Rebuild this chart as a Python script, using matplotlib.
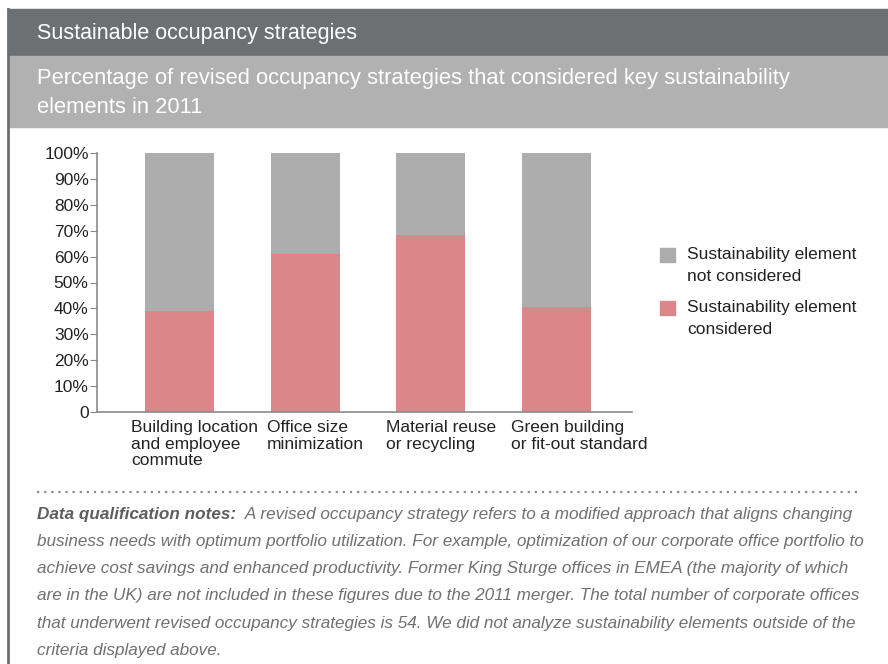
import matplotlib
matplotlib.use('Agg')
import matplotlib.pyplot as plt
from matplotlib.patches import Rectangle
from matplotlib.lines import Line2D

plt.rcParams['font.family'] = ['Liberation Sans', 'DejaVu Sans']

categories = ['Building location\nand employee\ncommute', 'Office size\nminimization',
              'Material reuse\nor recycling', 'Green building\nor fit-out standard']
considered = [38.9, 61.1, 68.5, 40.7]
not_considered = [61.1, 38.9, 31.5, 59.3]
ytick_vals = [0, 10, 20, 30, 40, 50, 60, 70, 80, 90, 100]
ytick_labels = ['0', '10%', '20%', '30%', '40%', '50%', '60%', '70%', '80%', '90%', '100%']
legend_labels = ['Sustainability element\nnot considered', 'Sustainability element\nconsidered']

title = 'Sustainable occupancy strategies'
subtitle = 'Percentage of revised occupancy strategies that considered key sustainability\nelements in 2011'
notes_bold = 'Data qualification notes:'
notes_lines = [
    '  A revised occupancy strategy refers to a modified approach that aligns changing',
    'business needs with optimum portfolio utilization. For example, optimization of our corporate office portfolio to',
    'achieve cost savings and enhanced productivity. Former King Sturge offices in EMEA (the majority of which',
    'are in the UK) are not included in these figures due to the 2011 merger. The total number of corporate offices',
    'that underwent revised occupancy strategies is 54. We did not analyze sustainability elements outside of the',
    'criteria displayed above.',
]

RED = '#dc868a'
GREY = '#adadad'
DARK = '#6d7073'
W, H = 888, 664


def fx(px):
    return px / W


def fy(py):
    return 1 - py / H


fig = plt.figure(figsize=(8.88, 6.64), dpi=100)

# header bands
fig.patches.append(Rectangle((fx(8), fy(56)), 1, fy(9) - fy(56), transform=fig.transFigure,
                             color=DARK, zorder=0))
fig.patches.append(Rectangle((fx(8), fy(127)), 1, fy(56) - fy(127), transform=fig.transFigure,
                             color='#b1b1b1', zorder=0))
fig.lines.append(Line2D([fx(8), fx(8)], [fy(9), 0], transform=fig.transFigure, color=DARK, lw=2))

fig.text(fx(37), fy(33), title, color='white', fontsize=15.5, va='center', ha='left')
fig.text(fx(37), fy(93), subtitle, color='white', fontsize=15.8, va='center', ha='left',
         linespacing=1.45)

# chart
ax = fig.add_axes([fx(97), fy(412), fx(632) - fx(97), fy(153) - fy(412)])
x = range(len(categories))
ax.bar(x, considered, width=0.55, color=RED)
ax.bar(x, not_considered, width=0.55, bottom=considered, color=GREY)
ax.set_xlim(-0.656, 3.6)
ax.set_ylim(0, 100)
ax.set_yticks(ytick_vals)
ax.set_yticklabels(ytick_labels, fontsize=12.5, color='#222222')
ax.set_xticks([])
for s in ['top', 'right']:
    ax.spines[s].set_visible(False)
for s in ['left', 'bottom']:
    ax.spines[s].set_color('#8a8a8a')
    ax.spines[s].set_linewidth(1.2)
ax.tick_params(axis='y', length=5, color='#8a8a8a', pad=1)

label_shift = [-14, -4, -10, -11]  # px, left edge of label vs bar edge
for i, lab in enumerate(categories):
    ax.annotate(lab, xy=(i - 0.275, 0), xycoords=('data', 'axes fraction'),
                xytext=(label_shift[i] * 0.72, -6), textcoords='offset points',
                ha='left', va='top', fontsize=12.5, color='#222222', linespacing=1.12)

# legend, drawn by hand so the swatch sits on the first text line
legend_colors = [GREY, RED]
legend_tops = [255, 308]
for col, ypx, lab in zip(legend_colors, legend_tops, legend_labels):
    fig.patches.append(Rectangle((fx(660), fy(ypx + 7)), fx(15), fy(ypx - 7) - fy(ypx + 7),
                                 transform=fig.transFigure, color=col))
    fig.text(fx(687), fy(ypx - 8), lab, fontsize=12.5, color='#222222', va='top', ha='left',
             linespacing=1.6)

# dotted separator
fig.lines.append(Line2D([fx(37), fx(860)], [fy(492), fy(492)], transform=fig.transFigure,
                        color='#8a8a8a', lw=1.6, linestyle=(0, (1, 2.2))))

# notes
t0 = fig.text(fx(37), fy(514), notes_bold, fontsize=12.3, style='italic', weight='bold',
              color='#5e5e5e', va='center', ha='left')
fig.canvas.draw()
bb = t0.get_window_extent()
fig.text(bb.x1 / W, fy(514), notes_lines[0], fontsize=12.3, style='italic', color='#707070',
         va='center', ha='left')
for k, line in enumerate(notes_lines[1:], start=1):
    fig.text(fx(37), fy(514 + 27.3 * k), line, fontsize=12.3, style='italic', color='#707070',
             va='center', ha='left')

fig.savefig('out.png', dpi=100)
